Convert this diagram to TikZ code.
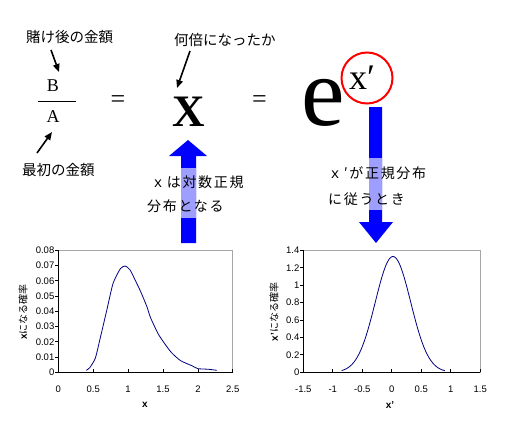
\documentclass[tikz,border=0pt]{standalone}
\usepackage{fontspec}
\setmainfont{Liberation Serif}
\setsansfont{Liberation Sans}
\newfontfamily\jpfont{Noto Sans CJK JP}
\newfontfamily\jpwide[LetterSpace=12]{Noto Sans CJK JP}
\usepackage{tikz}
\usetikzlibrary{arrows.meta,positioning}
\definecolor{chartline}{RGB}{0,0,128}
\tikzset{
  jplabel/.style={inner sep=0pt, anchor=west, font=\jpfont\fontsize{14.5}{16}\selectfont},
  jpnote/.style={inner sep=0pt, anchor=west, font=\jpwide\fontsize{14}{16}\selectfont},
  mathletter/.style={inner sep=0pt, font=\fontsize{18}{20}\selectfont},
  eqsign/.style={inner sep=0pt, font=\fontsize{26}{28}\selectfont},
  callout/.style={-{Triangle[length=8pt,width=6.5pt]}, line width=1.6pt},
  bigarrow/.style={fill=blue, draw=none},
  dither/.style={fill=blue!38, draw=none},
  frame/.style={draw=gray!70, line width=0.8pt},
  axis/.style={draw=black, line width=0.8pt},
  curve/.style={draw=chartline, line width=0.8pt},
  ticklbl/.style={inner sep=0pt, font=\sffamily\fontsize{9.5}{10}\selectfont},
  axtitle/.style={inner sep=0pt, font=\sffamily\bfseries\fontsize{10}{11}\selectfont},
  ytitle/.style={inner sep=0pt, rotate=90, font=\jpfont\fontsize{10}{11}\selectfont},
}

\begin{document}
\begin{tikzpicture}[x=1pt, y=-1pt,
    bigX/.style={inner sep=0pt, font=\bfseries\fontsize{45}{48}\selectfont},
    bige/.style={inner sep=0pt, font=\fontsize{98}{100}\selectfont},
    expo/.style={inner sep=0pt, font=\fontsize{36}{38}\selectfont},
    ring/.style={circle, draw=red, line width=2pt, minimum size=51pt, inner sep=0pt}]
  \useasboundingbox (0,0) rectangle (508,444);

  % The formula B/A = X = e^x'
  \node[mathletter] (B) at (53,86) {B};
  \node[mathletter] (A) at (53,117) {A};
  \coordinate (barL) at (38,101);
  \coordinate (barR) at (76,101);
  \draw[line width=1pt] (barL) -- (barR);
  \node[eqsign] (eq1) at (118,102) {=};
  \node[bigX] (X) at (189,112) {X};
  \node[eqsign] (eq2) at (259.5,102) {=};
  \node[bige] (e) at (323.5,102.5) {e};
  \node[expo, anchor=base west] (xp) at (349,89) {x′};
  \node[ring] (ring) at (367,78) {};

  % Labels with callouts
  \node[jplabel] (lblB) at (26,37) {賭け後の金額};
  \node[jplabel] (lblA) at (22,170) {最初の金額};
  \node[jplabel] (lblX) at (174,40) {何倍になったか};
  \coordinate (tailB) at (51,50);
  \coordinate (headB) at (59,72);
  \coordinate (tailA) at (37,153);
  \coordinate (headA) at (52,132);
  \coordinate (tailX) at (190,51);
  \coordinate (headX) at (177,88);
  \draw[callout] (tailB) -- (headB);
  \draw[callout] (tailA) -- (headA);
  \draw[callout] (tailX) -- (headX);

  % Big arrow up to X
  \fill[bigarrow] (181,243) -- (181,156) -- (169,156) -- (188,140) -- (207,156)
    -- (196,156) -- (196,243) -- cycle;
  \fill[dither] (181,168) rectangle (196,218);
  \node[jpnote] (upT1) at (151,182) {ｘは対数正規};
  \node[jpnote] (upT2) at (147,206) {分布となる};

  % Big arrow down from x'
  \fill[bigarrow] (369,107) -- (369,222) -- (359,222) -- (376,243) -- (393,222)
    -- (382,222) -- (382,107) -- cycle;
  \fill[dither] (369,158) rectangle (382,210);
  \node[jpnote] (dnT1) at (328,173) {ｘ′が正規分布};
  \node[jpnote] (dnT2) at (328,199) {に従うとき};

  % Left chart (x)
  \draw[frame] (58.3,250.3) rectangle (232.7,372.3);
  \draw[axis] (58.3,250.3) -- (58.3,372.3) -- (232.7,372.3);
  \foreach \lab [count=\i from 0] in {0,0.01,0.02,0.03,0.04,0.05,0.06,0.07,0.08}{
    \draw[axis] (58.3,{372.3-15.25*\i}) -- ++(-3,0);
    \node[ticklbl, anchor=east] (ly\i) at (54.5,{372.3-15.25*\i}) {\lab};
  }
  \foreach \lab [count=\i from 0] in {0,0.5,1,1.5,2,2.5}{
    \draw[axis] ({58.3+34.9*\i},372.3) -- ++(0,-3);
    \node[ticklbl] (lx\i) at ({58.3+34.9*\i},389) {\lab};
  }
  \begin{scope}[shift={(58.3,372.3)}, xscale=69.8, yscale=-1525]
    \draw[curve] plot[smooth, tension=0.35] coordinates {(0.40,0.0013) (0.45,0.003)
      (0.53,0.0092) (0.60,0.0223) (0.69,0.0398) (0.785,0.0584) (0.89,0.068)
      (0.96,0.0697) (1.03,0.067) (1.10,0.0606) (1.18,0.0529) (1.27,0.043)
      (1.32,0.036) (1.44,0.0245) (1.61,0.0135) (1.75,0.0077) (1.92,0.0042)
      (2.0,0.0024) (2.15,0.002) (2.27,0.0013)};
  \end{scope}
  \node[axtitle] (xtL) at (145,405) {x};
  \node[ytitle] (ytL) at (23,312) {{\sffamily\bfseries x}になる確率};

  % Right chart (x')
  \draw[frame] (303.3,250.3) rectangle (480.3,372.3);
  \draw[axis] (303.3,250.3) -- (303.3,372.3) -- (480.3,372.3);
  \foreach \lab [count=\i from 0] in {0,0.2,0.4,0.6,0.8,1,1.2,1.4}{
    \draw[axis] (303.3,{372.3-17.43*\i}) -- ++(-3,0);
    \node[ticklbl, anchor=east] (ry\i) at (299.5,{372.3-17.43*\i}) {\lab};
  }
  \foreach \lab [count=\i from 0] in {-1.5,-1,-0.5,0,0.5,1,1.5}{
    \draw[axis] ({303.3+29.5*\i},372.3) -- ++(0,-3);
    \node[ticklbl] (rx\i) at ({303.3+29.5*\i},389) {\lab};
  }
  \begin{scope}[shift={(391.8,372.3)}, xscale=59, yscale=-87.1]
    \draw[curve] plot[domain=-0.85:0.9, samples=60, smooth]
      (\x, {1.33*exp(-((\x-0.02)^2)/0.18)});
  \end{scope}
  \node[axtitle] (xtR) at (390,405) {x'};
  \node[ytitle] (ytR) at (274,312) {{\sffamily\bfseries x'}になる確率};

\end{tikzpicture}
\end{document}
